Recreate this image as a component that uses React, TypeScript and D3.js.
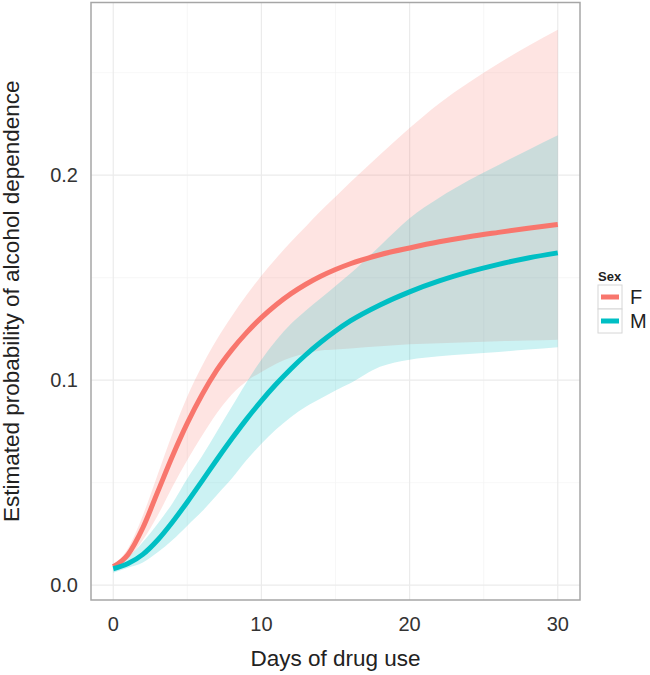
import React from "react";
import * as d3 from "d3";

// Days of drug use at which values were read
const days = [0, 1, 2, 3, 4, 5, 6, 7, 8, 9, 10, 11, 12, 13, 14, 15, 16, 18, 20, 22, 24, 26, 28, 30];

// Sex = F
const fFit = [0.009, 0.015, 0.028, 0.0455, 0.063, 0.079, 0.093, 0.105, 0.1148, 0.1232, 0.1305, 0.1368, 0.1422, 0.1468, 0.1507, 0.154, 0.1568, 0.1612, 0.1645, 0.1675, 0.17, 0.1721, 0.1741, 0.176];
const fLower = [0.0085, 0.013, 0.022, 0.034, 0.048, 0.061, 0.073, 0.084, 0.093, 0.0995, 0.104, 0.108, 0.111, 0.113, 0.1145, 0.115, 0.1155, 0.1165, 0.1175, 0.118, 0.1185, 0.119, 0.1193, 0.1197];
const fUpper = [0.0095, 0.018, 0.034, 0.054, 0.074, 0.092, 0.107, 0.12, 0.1312, 0.1415, 0.151, 0.1595, 0.1675, 0.175, 0.1825, 0.1895, 0.1965, 0.21, 0.223, 0.235, 0.2452, 0.2545, 0.263, 0.271];

// Sex = M
const mFit = [0.008, 0.0105, 0.015, 0.022, 0.0308, 0.0406, 0.0509, 0.0613, 0.0714, 0.081, 0.0899, 0.0981, 0.1056, 0.1124, 0.1185, 0.124, 0.1289, 0.1367, 0.1431, 0.1484, 0.1528, 0.1565, 0.1596, 0.1621];
const mLower = [0.006, 0.0085, 0.011, 0.016, 0.022, 0.029, 0.036, 0.044, 0.052, 0.061, 0.069, 0.076, 0.082, 0.087, 0.091, 0.095, 0.0985, 0.1065, 0.11, 0.1117, 0.1128, 0.1138, 0.1149, 0.116];
const mUpper = [0.0088, 0.0135, 0.021, 0.03, 0.04, 0.052, 0.063, 0.075, 0.087, 0.099, 0.11, 0.1195, 0.1275, 0.134, 0.14, 0.146, 0.152, 0.1655, 0.179, 0.189, 0.1975, 0.205, 0.2123, 0.2195];

const xMajor = [0, 10, 20, 30];
const xMinor = [5, 15, 25];
const yMajor = [0, 0.1, 0.2];
const yMinor = [0.05, 0.15, 0.25];

const sexLevels = ["F", "M"];
const sexColors = ["#F8766D", "#00BFC4"];

const W = 650;
const H = 675;
const panel = { left: 91, right: 580, top: 2.5, bottom: 600 };
const FONT = "'Liberation Sans', Arial, Helvetica, sans-serif";

export default function App() {
  const series = [
    { name: sexLevels[0], color: sexColors[0], fit: fFit, lo: fLower, hi: fUpper },
    { name: sexLevels[1], color: sexColors[1], fit: mFit, lo: mLower, hi: mUpper },
  ];

  const xExt = d3.extent(days) as [number, number];
  const xPad = (xExt[1] - xExt[0]) * 0.05;
  const allY = [...fLower, ...fUpper, ...mLower, ...mUpper];
  const yExt = d3.extent(allY) as [number, number];
  const yPad = (yExt[1] - yExt[0]) * 0.05;

  const x = d3.scaleLinear().domain([xExt[0] - xPad, xExt[1] + xPad]).range([panel.left, panel.right]);
  const y = d3.scaleLinear().domain([yExt[0] - yPad, yExt[1] + yPad]).range([panel.bottom, panel.top]);

  const area = d3
    .area<number>()
    .x((_, i) => x(days[i]))
    .curve(d3.curveMonotoneX);
  const line = d3
    .line<number>()
    .x((_, i) => x(days[i]))
    .y((v) => y(v))
    .curve(d3.curveMonotoneX);

  const fmt = d3.format(".1f");

  const legendX = 598;
  const keySize = 24;
  const keyTop = 285;

  return (
    <svg
      width={W}
      height={H}
      style={{ position: "absolute", left: 0, top: 0, background: "#fff" }}
      fontFamily={FONT}
    >
      <rect x={0} y={0} width={W} height={H} fill="#fff" />
      {/* grid */}
      <g>
        {xMinor.map((v) => (
          <line key={"xm" + v} x1={x(v)} x2={x(v)} y1={panel.top} y2={panel.bottom} stroke="#f3f3f3" strokeWidth={0.7} />
        ))}
        {yMinor.map((v) => (
          <line key={"ym" + v} x1={panel.left} x2={panel.right} y1={y(v)} y2={y(v)} stroke="#f3f3f3" strokeWidth={0.7} />
        ))}
        {xMajor.map((v) => (
          <line key={"xM" + v} x1={x(v)} x2={x(v)} y1={panel.top} y2={panel.bottom} stroke="#ebebeb" strokeWidth={1.2} />
        ))}
        {yMajor.map((v) => (
          <line key={"yM" + v} x1={panel.left} x2={panel.right} y1={y(v)} y2={y(v)} stroke="#ebebeb" strokeWidth={1.2} />
        ))}
      </g>
      {/* ribbons */}
      <g>
        {series.map((s) => (
          <path
            key={"rib" + s.name}
            d={area.y0((_, i) => y(s.lo[i])).y1((_, i) => y(s.hi[i]))(s.fit) || ""}
            fill={s.color}
            fillOpacity={0.2}
          />
        ))}
      </g>
      {/* lines */}
      <g>
        {series.map((s) => (
          <path key={"ln" + s.name} d={line(s.fit) || ""} fill="none" stroke={s.color} strokeWidth={5} />
        ))}
      </g>
      {/* panel border */}
      <rect
        x={panel.left}
        y={panel.top}
        width={panel.right - panel.left}
        height={panel.bottom - panel.top}
        fill="none"
        stroke="#a6a6a6"
        strokeWidth={1.5}
      />
      {/* axis labels */}
      <g fill="#333" fontSize={20}>
        {yMajor.map((v) => (
          <text key={"yl" + v} x={78} y={y(v)} dy="0.35em" textAnchor="end">
            {fmt(v)}
          </text>
        ))}
        {xMajor.map((v) => (
          <text key={"xl" + v} x={x(v)} y={631} textAnchor="middle">
            {v}
          </text>
        ))}
      </g>
      <text x={(panel.left + panel.right) / 2} y={666} textAnchor="middle" fontSize={22.5} fill="#222">
        Days of drug use
      </text>
      <text
        transform={`translate(18.5, ${(panel.top + panel.bottom) / 2}) rotate(-90)`}
        textAnchor="middle"
        fontSize={22.5}
        fill="#222"
      >
        Estimated probability of alcohol dependence
      </text>
      {/* legend */}
      <g>
        <text x={legendX} y={281} fontSize={13} fontWeight="bold" fill="#222">
          Sex
        </text>
        {series.map((s, i) => {
          const ky = keyTop + i * keySize;
          return (
            <g key={"lg" + s.name}>
              <rect x={legendX} y={ky} width={keySize} height={keySize} fill="#fff" stroke="#d6d6d6" strokeWidth={1} />
              <line x1={legendX + 3} x2={legendX + keySize - 3} y1={ky + keySize / 2} y2={ky + keySize / 2} stroke={s.color} strokeWidth={5} />
              <text x={630} y={ky + keySize / 2} dy="0.36em" fontSize={20} fill="#222">
                {s.name}
              </text>
            </g>
          );
        })}
      </g>
    </svg>
  );
}
